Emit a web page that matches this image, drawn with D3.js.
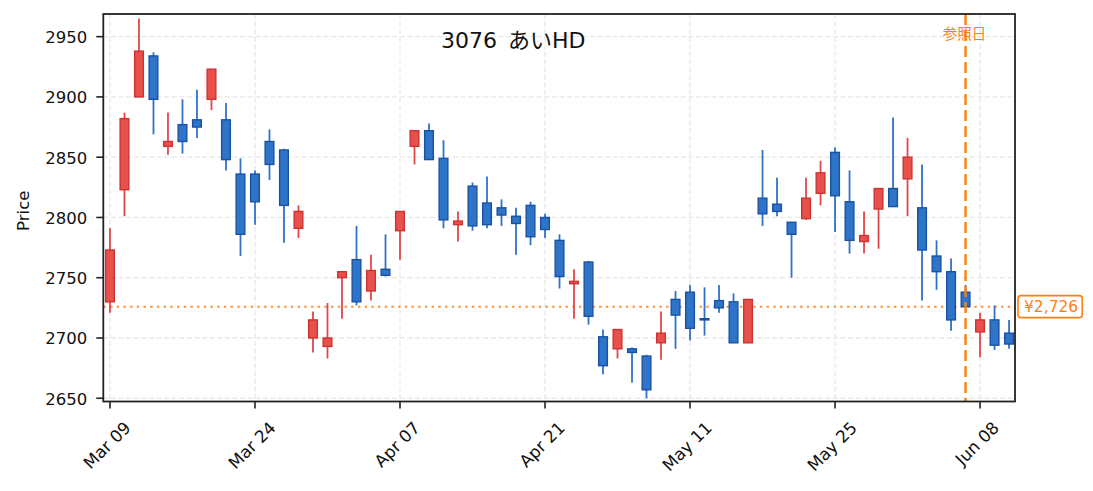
<!DOCTYPE html>
<html>
<head>
<meta charset="utf-8">
<script src="https://cdn.jsdelivr.net/npm/d3@7"></script>
<style>
  body { margin: 0; background: #fff; }
  text { font-family: "DejaVu Sans", "Noto Sans CJK JP", sans-serif; }
</style>
</head>
<body>
<script>
// daily candles, 3076 あいHD (trading days only)
var dates = ["2026-03-09","2026-03-10","2026-03-11","2026-03-12","2026-03-13","2026-03-16","2026-03-17","2026-03-18","2026-03-19","2026-03-23",
  "2026-03-24","2026-03-25","2026-03-26","2026-03-27","2026-03-30","2026-03-31","2026-04-01","2026-04-02","2026-04-03","2026-04-06",
  "2026-04-07","2026-04-08","2026-04-09","2026-04-10","2026-04-13","2026-04-14","2026-04-15","2026-04-16","2026-04-17","2026-04-20",
  "2026-04-21","2026-04-22","2026-04-23","2026-04-24","2026-04-27","2026-04-28","2026-04-30","2026-05-01","2026-05-07","2026-05-08",
  "2026-05-11","2026-05-12","2026-05-13","2026-05-14","2026-05-15","2026-05-18","2026-05-19","2026-05-20","2026-05-21","2026-05-22",
  "2026-05-25","2026-05-26","2026-05-27","2026-05-28","2026-05-29","2026-06-01","2026-06-02","2026-06-03","2026-06-04","2026-06-05",
  "2026-06-08","2026-06-09","2026-06-10"];
var open  = [2730,2823,2900,2934,2859,2877,2881,2898,2881,2836, 2836,2863,2856,2791,2700,2693,2750,2765,2739,2757,
             2789,2859,2872,2849,2794,2826,2812,2808,2801,2810, 2800,2781,2745,2763,2701,2691,2691,2685,2696,2732,
             2738,2716,2731,2730,2696,2816,2811,2796,2799,2820, 2854,2813,2780,2807,2824,2832,2808,2768,2755,2738,
             2705,2715,2704];
var high  = [2791,2887,2965,2937,2887,2898,2906,2923,2895,2849, 2839,2873,2857,2810,2722,2729,2755,2793,2769,2786,
             2805,2872,2878,2864,2805,2829,2834,2815,2808,2813, 2803,2786,2757,2764,2707,2707,2692,2686,2722,2739,
             2744,2742,2744,2737,2732,2856,2833,2796,2833,2847, 2858,2839,2805,2824,2883,2866,2844,2781,2766,2744,
             2721,2727,2715];
var low   = [2721,2801,2900,2869,2852,2853,2866,2889,2839,2768, 2794,2831,2779,2783,2688,2683,2716,2727,2731,2751,
             2765,2844,2848,2791,2780,2789,2791,2793,2769,2777, 2783,2741,2716,2711,2670,2683,2663,2650,2682,2691,
             2698,2702,2721,2696,2696,2793,2801,2750,2798,2810, 2788,2770,2770,2774,2809,2801,2731,2740,2706,2726,
             2684,2690,2691];
var close = [2773,2882,2938,2898,2863,2863,2875,2923,2848,2786, 2813,2844,2810,2805,2715,2700,2755,2730,2756,2752,
             2805,2872,2848,2798,2797,2793,2794,2802,2795,2784, 2790,2751,2747,2718,2677,2707,2688,2657,2704,2719,
             2708,2715,2725,2696,2732,2803,2805,2786,2816,2837, 2818,2781,2785,2824,2809,2850,2773,2755,2715,2726,
             2715,2694,2695];
var yTicks = [2650,2700,2750,2800,2850,2900,2950];
var refIndex = 59;       // 参照日
var refPrice = 2726;
var title = "3076\u2002あいHD";

var W = 1093, H = 491;
// plot box (window.top is read-only, so don't call it "top")
var pL = 103.3, pR = 1015, pT = 14, pB = 401.5;

var svg = d3.select("body").append("svg").attr("width", W).attr("height", H);

var parse = d3.timeParse("%Y-%m-%d");
var fmt = d3.timeFormat("%b %d");
var data = dates.map(function(d, i){
  return {i: i, date: parse(d), o: open[i], h: high[i], l: low[i], c: close[i]};
});

var x = d3.scaleLinear().domain([-0.46, 62.41]).range([pL, pR]);
var y = d3.scaleLinear().domain([2647.3, 2968.8]).range([pB, pT]);

var xTickIdx = d3.range(0, data.length, 10);

// grid
var grid = svg.append("g");
grid.selectAll(".gy").data(yTicks).enter().append("line")
  .attr("x1", pL).attr("x2", pR)
  .attr("y1", d => y(d)).attr("y2", d => y(d))
  .attr("stroke", "#e8e8e8").attr("stroke-width", 1.3).attr("stroke-dasharray", "5,2.6");
grid.selectAll(".gx").data(xTickIdx).enter().append("line")
  .attr("x1", d => x(d)).attr("x2", d => x(d))
  .attr("y1", pT).attr("y2", pB)
  .attr("stroke", "#e8e8e8").attr("stroke-width", 1.3).attr("stroke-dasharray", "5,2.6");

// reference price line
svg.append("line")
  .attr("x1", pL).attr("x2", pR)
  .attr("y1", y(refPrice)).attr("y2", y(refPrice))
  .attr("stroke", "#ff7f0e").attr("stroke-width", 2).attr("stroke-dasharray", "2.4,4.3")
  .attr("opacity", 0.85);

// candles
var bw = x(0.6) - x(0);
var up = d => d.c >= d.o;
var cg = svg.append("g");
cg.selectAll(".wick").data(data).enter().append("line")
  .attr("x1", d => x(d.i)).attr("x2", d => x(d.i))
  .attr("y1", d => y(d.h)).attr("y2", d => y(d.l))
  .attr("stroke", d => up(d) ? "#e04848" : "#2f72c6")
  .attr("stroke-width", 1.8);
cg.selectAll(".body").data(data).enter().append("rect")
  .attr("x", d => x(d.i) - bw / 2)
  .attr("width", bw)
  .attr("y", d => y(Math.max(d.o, d.c)))
  .attr("height", d => Math.max(1, Math.abs(y(d.o) - y(d.c))))
  .attr("fill", d => up(d) ? "#e8504b" : "#2e74c8")
  .attr("stroke", d => up(d) ? "#cc3333" : "#1a52a2")
  .attr("stroke-width", 1.4);

// reference date line
svg.append("line")
  .attr("x1", x(refIndex)).attr("x2", x(refIndex))
  .attr("y1", pT).attr("y2", pB)
  .attr("stroke", "#ff7f0e").attr("stroke-width", 2.4).attr("stroke-dasharray", "11,5");
svg.append("text")
  .attr("x", x(refIndex) - 1).attr("y", 34)
  .attr("text-anchor", "middle").attr("dominant-baseline", "central")
  .attr("font-size", 14.5).attr("fill", "#ff7f0e")
  .text("参照日");

// frame
svg.append("rect")
  .attr("x", pL).attr("y", pT).attr("width", pR - pL).attr("height", pB - pT)
  .attr("fill", "none").attr("stroke", "#222").attr("stroke-width", 1.8);

// y axis
var ya = svg.append("g");
ya.selectAll("line").data(yTicks).enter().append("line")
  .attr("x1", pL - 7).attr("x2", pL)
  .attr("y1", d => y(d)).attr("y2", d => y(d))
  .attr("stroke", "#222").attr("stroke-width", 1.6);
ya.selectAll("text").data(yTicks).enter().append("text")
  .attr("x", pL - 16).attr("y", d => y(d) + 1)
  .attr("text-anchor", "end").attr("dominant-baseline", "central")
  .attr("font-size", 16.5).attr("fill", "#111")
  .text(d => d);
svg.append("text")
  .attr("transform", "translate(23," + ((pT + pB) / 2 + 3) + ") rotate(-90)")
  .attr("text-anchor", "middle").attr("dominant-baseline", "central")
  .attr("font-size", 16.5).attr("fill", "#111")
  .text("Price");

// x axis
var xa = svg.append("g");
xa.selectAll("line").data(xTickIdx).enter().append("line")
  .attr("x1", d => x(d)).attr("x2", d => x(d))
  .attr("y1", pB).attr("y2", pB + 7)
  .attr("stroke", "#222").attr("stroke-width", 1.6);
xa.selectAll("text").data(xTickIdx).enter().append("text")
  .attr("text-anchor", "middle").attr("dominant-baseline", "central")
  .attr("font-size", 16.8).attr("fill", "#111")
  .text(d => fmt(data[d].date))
  .attr("transform", function(d){
    var L = this.getComputedTextLength(), h = 13;
    var half = (L + h) * 0.7071 / 2;
    return "translate(" + (x(d) - 3) + "," + (420 + half) + ") rotate(-45)";
  });

// title
svg.append("text")
  .attr("x", 441).attr("y", 40)
  .attr("dominant-baseline", "central")
  .attr("font-size", 22).attr("fill", "#111")
  .text(title);

// price tag on the right
var tag = svg.append("g").attr("transform", "translate(1018," + y(refPrice) + ")");
var tagText = tag.append("text")
  .attr("x", 6).attr("y", 0.5)
  .attr("dominant-baseline", "central")
  .attr("font-size", 15.5).attr("fill", "#ff7f0e")
  .text("¥" + d3.format(",")(refPrice));
var tw = tagText.node().getComputedTextLength();
tag.insert("rect", "text")
  .attr("x", 0).attr("y", -11).attr("width", tw + 10).attr("height", 22)
  .attr("rx", 3).attr("fill", "#fff").attr("stroke", "#ff7f0e").attr("stroke-width", 1.6);
</script>
</body>
</html>
